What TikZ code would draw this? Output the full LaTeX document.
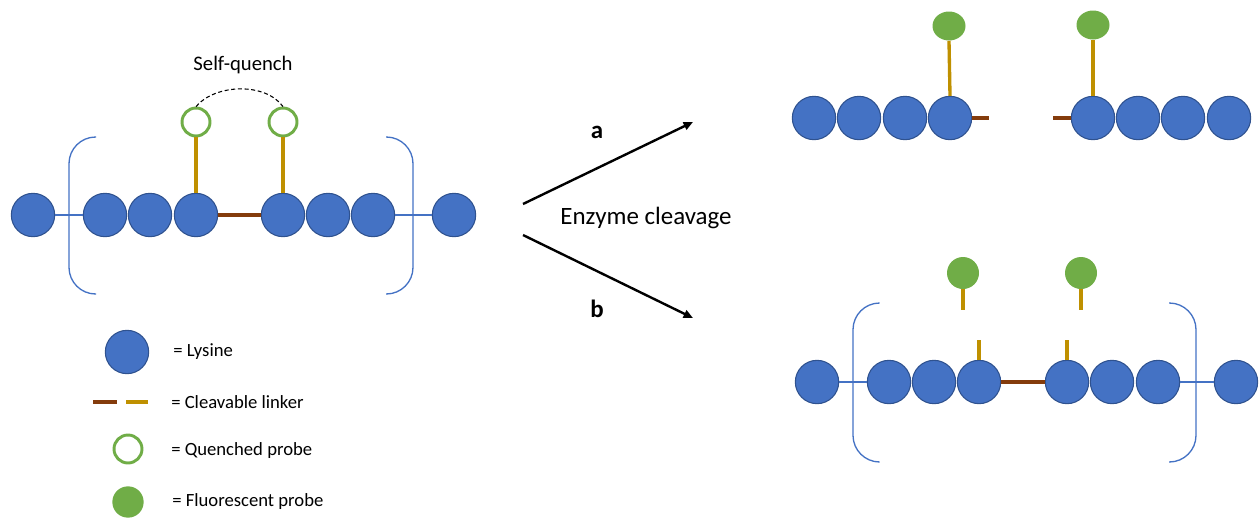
\documentclass[tikz,border=0pt]{standalone}
\usepackage{fontspec}
\setmainfont{Carlito}
\usetikzlibrary{arrows.meta,shapes.geometric}
\definecolor{lysblue}{HTML}{4472C4}
\definecolor{lysedge}{HTML}{2F528F}
\definecolor{probegreen}{HTML}{70AD47}
\definecolor{linkgold}{HTML}{BF9000}
\definecolor{linkbrown}{HTML}{843C0C}

\begin{document}
\begin{tikzpicture}[x=0.75pt,y=-0.75pt,
  lys/.style={circle,fill=lysblue,draw=lysedge,line width=0.8pt,minimum size=32.5pt,inner sep=0pt},
  qprobe/.style={circle,draw=probegreen,line width=2.2pt,fill=white,minimum size=21pt,inner sep=0pt},
  fprobe/.style={circle,fill=probegreen,minimum size=24pt,inner sep=0pt},
  fprobeflat/.style={ellipse,fill=probegreen,minimum width=24.75pt,minimum height=21.75pt,inner sep=0pt},
  bond/.style={draw=lysblue,line width=1pt},
  brack/.style={draw=lysblue,line width=1pt,rounded corners=20pt},
  goldlink/.style={draw=linkgold,line width=2.5pt},
  brownlink/.style={draw=linkbrown,line width=2.6pt},
  react/.style={line width=1.8pt,-{Triangle[length=7pt,width=6pt]}},
  legendtxt/.style={anchor=west,inner sep=0pt,font=\fontsize{14}{16}\selectfont},
  bigtxt/.style={inner sep=0pt,font=\fontsize{18.7}{21}\selectfont},
  steplbl/.style={inner sep=0pt,font=\fontsize{18.7}{21}\selectfont\bfseries}
]
\useasboundingbox (0,0) rectangle (1260,518);

% ---------- intact polymer with quenched probes ----------
\draw[brack] (96,137) -- (69,137) -- (69,294) -- (96,294);
\draw[brack] (386,137) -- (413,137) -- (413,294) -- (386,294);
\foreach \n/\x in {1/33,2/105,3/150,4/196,5/283,6/328,7/373,8/454}
  \node[lys] (L\n) at (\x,215) {};
\draw[bond] (L1.east) -- (L2.west);
\draw[bond] (L7.east) -- (L8.west);
\draw[brownlink] (L4.east) -- (L5.west);
\node[qprobe] (Q1) at (196,122) {};
\node[qprobe] (Q2) at (283,122) {};
\draw[goldlink] (L4.north) -- (Q1.south);
\draw[goldlink] (L5.north) -- (Q2.south);
\draw[dashed,dash pattern=on 3pt off 2pt,line width=0.8pt]
  (Q1.north) .. controls (215,84) and (265,82) .. (Q2.north);
\node[font=\fontsize{15.5}{18}\selectfont,inner sep=0pt] (sq) at (243,65) {Self-quench};

% ---------- reaction arrows ----------
\coordinate (ua) at (523,204);
\coordinate (ub) at (693,122);
\coordinate (da) at (523,235);
\coordinate (db) at (693,318);
\draw[react] (ua) -- (ub);
\draw[react] (da) -- (db);
\node[steplbl] (la) at (597,132) {a};
\node[steplbl] (lb) at (597,309) {b};
\node[bigtxt] (enz) at (646,218) {Enzyme cleavage};

% ---------- route a: backbone cleaved ----------
\foreach \n/\x in {1/814,2/859,3/905,4/950}
  \node[lys] (A\n) at (\x,118) {};
\foreach \n/\x in {1/1093,2/1138,3/1183,4/1229}
  \node[lys] (B\n) at (\x,118) {};
\node[fprobeflat] (FA) at (949,26) {};
\node[fprobeflat] (FB) at (1093,25) {};
\draw[goldlink] (FA.south) -- (A4.north);
\draw[goldlink] (FB.south) -- (B1.north);
\coordinate (sa) at (989,118);
\coordinate (sb) at (1053,118);
\draw[brownlink] (A4.east) -- (sa);
\draw[brownlink] (sb) -- (B1.west);

% ---------- route b: probes cleaved ----------
\draw[brack] (879,303) -- (853,303) -- (853,462) -- (879,462);
\draw[brack] (1169,303) -- (1196,303) -- (1196,462) -- (1169,462);
\foreach \n/\x in {1/817,2/889,3/934,4/979,5/1067,6/1112,7/1158,8/1236}
  \node[lys] (C\n) at (\x,382) {};
\draw[bond] (C1.east) -- (C2.west);
\draw[bond] (C7.east) -- (C8.west);
\draw[brownlink] (C4.east) -- (C5.west);
\node[fprobe] (FC) at (963,273) {};
\node[fprobe] (FD) at (1081,273) {};
\coordinate (tc) at (963,310);
\coordinate (td) at (1081,310);
\draw[goldlink] (FC.south) -- (tc);
\draw[goldlink] (FD.south) -- (td);
\coordinate (bc) at (979,340);
\coordinate (bd) at (1067,340);
\draw[goldlink] (C4.north) -- (bc);
\draw[goldlink] (C5.north) -- (bd);

% ---------- legend ----------
\node[lys] (kl) at (127,352) {};
\node[legendtxt] (tl) at (173,352) {= Lysine};
\coordinate (k1) at (93,402);
\coordinate (k2) at (117,402);
\coordinate (k3) at (126,402);
\coordinate (k4) at (148,402);
\draw[brownlink] (k1) -- (k2);
\draw[goldlink] (k3) -- (k4);
\node[legendtxt] (tk) at (171,402) {= Cleavable linker};
\node[qprobe] (kq) at (128,449) {};
\node[legendtxt] (tq) at (171,451) {= Quenched probe};
\node[fprobe,minimum size=23.5pt] (kf) at (128,502) {};
\node[legendtxt] (tf) at (172,502) {= Fluorescent probe};
\end{tikzpicture}
\end{document}
